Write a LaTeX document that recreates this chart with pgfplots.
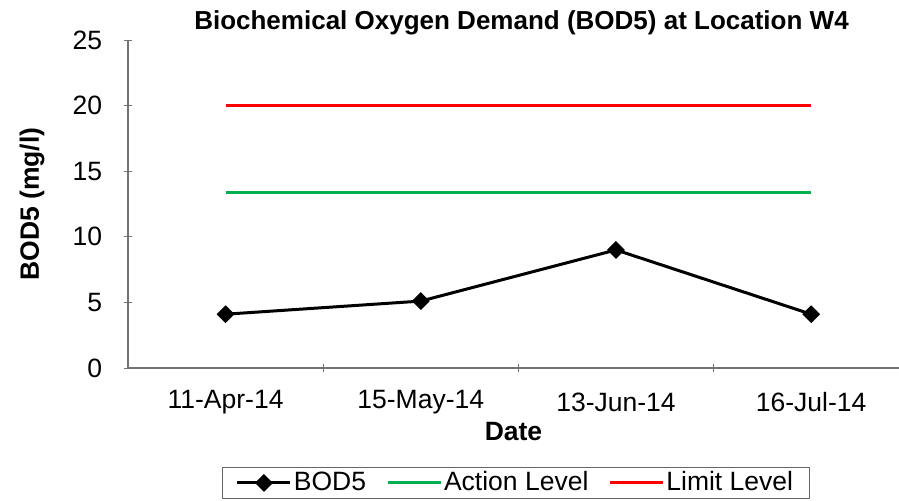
\documentclass[border=0pt]{standalone}
\usepackage{fontspec}
\setmainfont{Liberation Sans}
\usepackage{pgfplots}
\pgfplotsset{compat=1.18}
\definecolor{actgreen}{HTML}{00B050}
\definecolor{limred}{HTML}{FF0000}

\begin{document}
\fontsize{26bp}{31bp}\selectfont
\begin{tikzpicture}
  \begin{axis}[
      name=ax, at={(0,0)}, anchor=south west,
      scale only axis, width=771bp, height=328bp,
      xmin=-0.5, xmax=3.45, ymin=0, ymax=25,
      axis x line=bottom, axis y line=left,
      axis line style={-, draw=black!55, line width=1.2bp},
      xtick={0,1,2,3},
      xticklabels={11-Apr-14,15-May-14,13-Jun-14,16-Jul-14},
      minor xtick={0.5,1.5,2.5},
      major x tick style={draw=none},
      minor tick length=8bp,
      ytick={0,5,...,25},
      major tick length=8bp,
      tick style={draw=black!55, line width=1bp},
      /pgf/number format/assume math mode=true,
      tick label style={font=\fontsize{26.5bp}{31bp}\selectfont},
      yticklabel style={xshift=-13bp},
      xticklabel style={anchor=center, yshift=-30bp},
      title={\textbf{Biochemical Oxygen Demand (BOD5) at Location W4}},
      title style={font=\fontsize{26bp}{31bp}\selectfont, at={(axis description cs:0.5,1)}, anchor=center, yshift=11bp, xshift=8bp},
      xlabel={\textbf{Date}},
      xlabel style={font=\fontsize{26.5bp}{31bp}\selectfont, at={(axis description cs:0.5,0)}, anchor=center, yshift=-64bp},
      ylabel={\textbf{BOD5 (mg/l)}},
      ylabel style={font=\fontsize{26.5bp}{31bp}\selectfont, at={(axis description cs:-0.1245,0.5)}, anchor=center},
      legend columns=3,
      legend style={at={(0.5,0)}, anchor=north, yshift=-99bp, xshift=2bp,
        draw=black!60, line width=0.8bp, inner xsep=14bp,
        font=\fontsize{26.5bp}{31bp}\selectfont,
        /tikz/every even column/.append style={column sep=18bp}},
      legend image code/.code={\draw[mark repeat=2,mark phase=2,#1]
        plot coordinates {(0bp,0bp)(26.5bp,0bp)(53bp,0bp)};},
    ]
    \addplot[black, line width=3bp, mark=square*, mark size=4.8bp,
             mark options={rotate=45, solid}]
      coordinates {(0,4.1)(1,5.1)(2,9.0)(3,4.1)};
    \addlegendentry{BOD5}
    \addplot[actgreen, line width=3bp, mark=none]
      coordinates {(0,13.4)(3,13.4)};
    \addlegendentry{Action Level}
    \addplot[limred, line width=3bp, mark=none]
      coordinates {(0,20)(3,20)};
    \addlegendentry{Limit Level}
  \end{axis}
  \pgfresetboundingbox
  \useasboundingbox (-128bp,-133bp) rectangle (771bp,368bp);
\end{tikzpicture}
\end{document}
